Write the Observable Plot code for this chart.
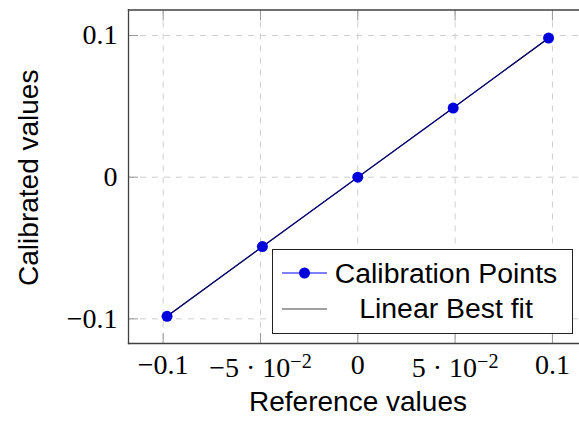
<!DOCTYPE html>
<html><head><meta charset="utf-8">
<script src="https://cdn.jsdelivr.net/npm/d3@7"></script>
<script src="https://cdn.jsdelivr.net/npm/@observablehq/plot@0.6"></script>
<style>body{margin:0;background:#fff;overflow:hidden}</style>
</head><body><div id="chart"></div>
<script>
const refX = [-0.098, -0.049, 0, 0.049, 0.098];
const calY = [-0.0982, -0.049, 0, 0.0488, 0.0982];
const xTicks = [-0.1, -0.05, 0, 0.05, 0.1];
const yTicks = [-0.1, 0, 0.1];
const xTickLabels = ["−0.1", "−5 · 10^−2", "0", "5 · 10^−2", "0.1"];
const yTickLabels = ["−0.1", "0", "0.1"];
const seriesNames = ["Calibration Points", "Linear Best fit"];
const xLabel = "Reference values";
const yLabel = "Calibrated values";

const data = refX.map((x, i) => ({x, y: calY[i]}));
const serif = "'Liberation Serif', 'DejaVu Serif', serif";
const sans = "'Liberation Sans', Arial, sans-serif";
const gridStyle = {stroke: "#cfcfcf", strokeOpacity: 1, strokeWidth: 1, strokeDasharray: "6,6"};
const tickStyle = {stroke: "#9a9a9a", strokeOpacity: 1, tickSize: -10, tickFormat: () => "", label: null};

const plot = Plot.plot({
  width: 579, height: 423,
  marginLeft: 128, marginRight: 0, marginTop: 9.5, marginBottom: 80,
  style: {background: "white"},
  x: {domain: [-0.1178, 0.1139]},
  y: {domain: [-0.1174, 0.118]},
  marks: [
    Plot.gridX(xTicks, gridStyle),
    Plot.gridY(yTicks, gridStyle),
    Plot.axisX(xTicks, {anchor: "bottom", ...tickStyle}),
    Plot.axisX(xTicks, {anchor: "top", ...tickStyle}),
    Plot.axisY(yTicks, {anchor: "left", ...tickStyle}),
    Plot.axisX(xTicks, {anchor: "bottom", tickSize: 0, tickPadding: 11, label: null,
      tickFormat: d => xTickLabels[xTicks.indexOf(d)], fontSize: 28, fontFamily: serif, fill: "#000"}),
    Plot.axisY(yTicks, {anchor: "left", tickSize: 0, tickPadding: 11, label: null,
      tickFormat: d => yTickLabels[yTicks.indexOf(d)], fontSize: 28, fontFamily: serif, fill: "#000"}),
    Plot.frame({anchor: "left", stroke: "#404040", strokeWidth: 1.3}),
    Plot.frame({anchor: "top", stroke: "#404040", strokeWidth: 1.3}),
    Plot.frame({anchor: "bottom", stroke: "#404040", strokeWidth: 1.3}),
    Plot.line(data, {x: "x", y: "y", stroke: "#0000ff", strokeWidth: 1.2}),
    Plot.linearRegressionY(data, {x: "x", y: "y", ci: 0, stroke: "#10103a", strokeWidth: 1.1}),
    Plot.dot(data, {x: "x", y: "y", r: 5.5, fill: "#0000dd", stroke: null}),
    Plot.text([xLabel], {frameAnchor: "bottom", text: d => d, dy: 59, dx: 4, lineAnchor: "middle",
      textAnchor: "middle", fontSize: 28, fontFamily: sans, fill: "#000"}),
    Plot.text([yLabel], {frameAnchor: "left", text: d => d, dx: -99, dy: 1, rotate: -90, lineAnchor: "middle",
      textAnchor: "middle", fontSize: 28, fontFamily: sans, fill: "#000"})
  ]
});

// superscripts in x tick labels
d3.select(plot).selectAll('g[aria-label="x-axis tick label"] text').each(function() {
  const t = d3.select(this);
  const s = t.text();
  if (s.includes("^")) {
    const [base, exp] = s.split("^");
    const tr = t.attr("transform") || "";
    t.text(base).attr("transform", tr + " translate(0,2.5)");
    t.append("tspan").attr("dy", "-0.42em").attr("font-size", "0.72em").text(exp);
  }
});

// legend
const svg = d3.select(plot);
const lg = svg.append("g").attr("font-family", sans).attr("font-size", 28.4);
lg.append("rect").attr("x", 272.5).attr("y", 249.5).attr("width", 300).attr("height", 84)
  .attr("fill", "white").attr("stroke", "#222").attr("stroke-width", 1);
lg.append("line").attr("x1", 282).attr("x2", 327).attr("y1", 273).attr("y2", 273)
  .attr("stroke", "#0000ff").attr("stroke-width", 1.2);
lg.append("circle").attr("cx", 304.5).attr("cy", 273).attr("r", 5.5).attr("fill", "#0000dd");
lg.append("text").attr("x", 446).attr("y", 282.5).attr("text-anchor", "middle").text(seriesNames[0]);
lg.append("line").attr("x1", 282).attr("x2", 327).attr("y1", 309).attr("y2", 309)
  .attr("stroke", "#444").attr("stroke-width", 1.1);
lg.append("text").attr("x", 446).attr("y", 317.5).attr("text-anchor", "middle").text(seriesNames[1]);

document.getElementById("chart").appendChild(plot);
</script>
</body></html>
